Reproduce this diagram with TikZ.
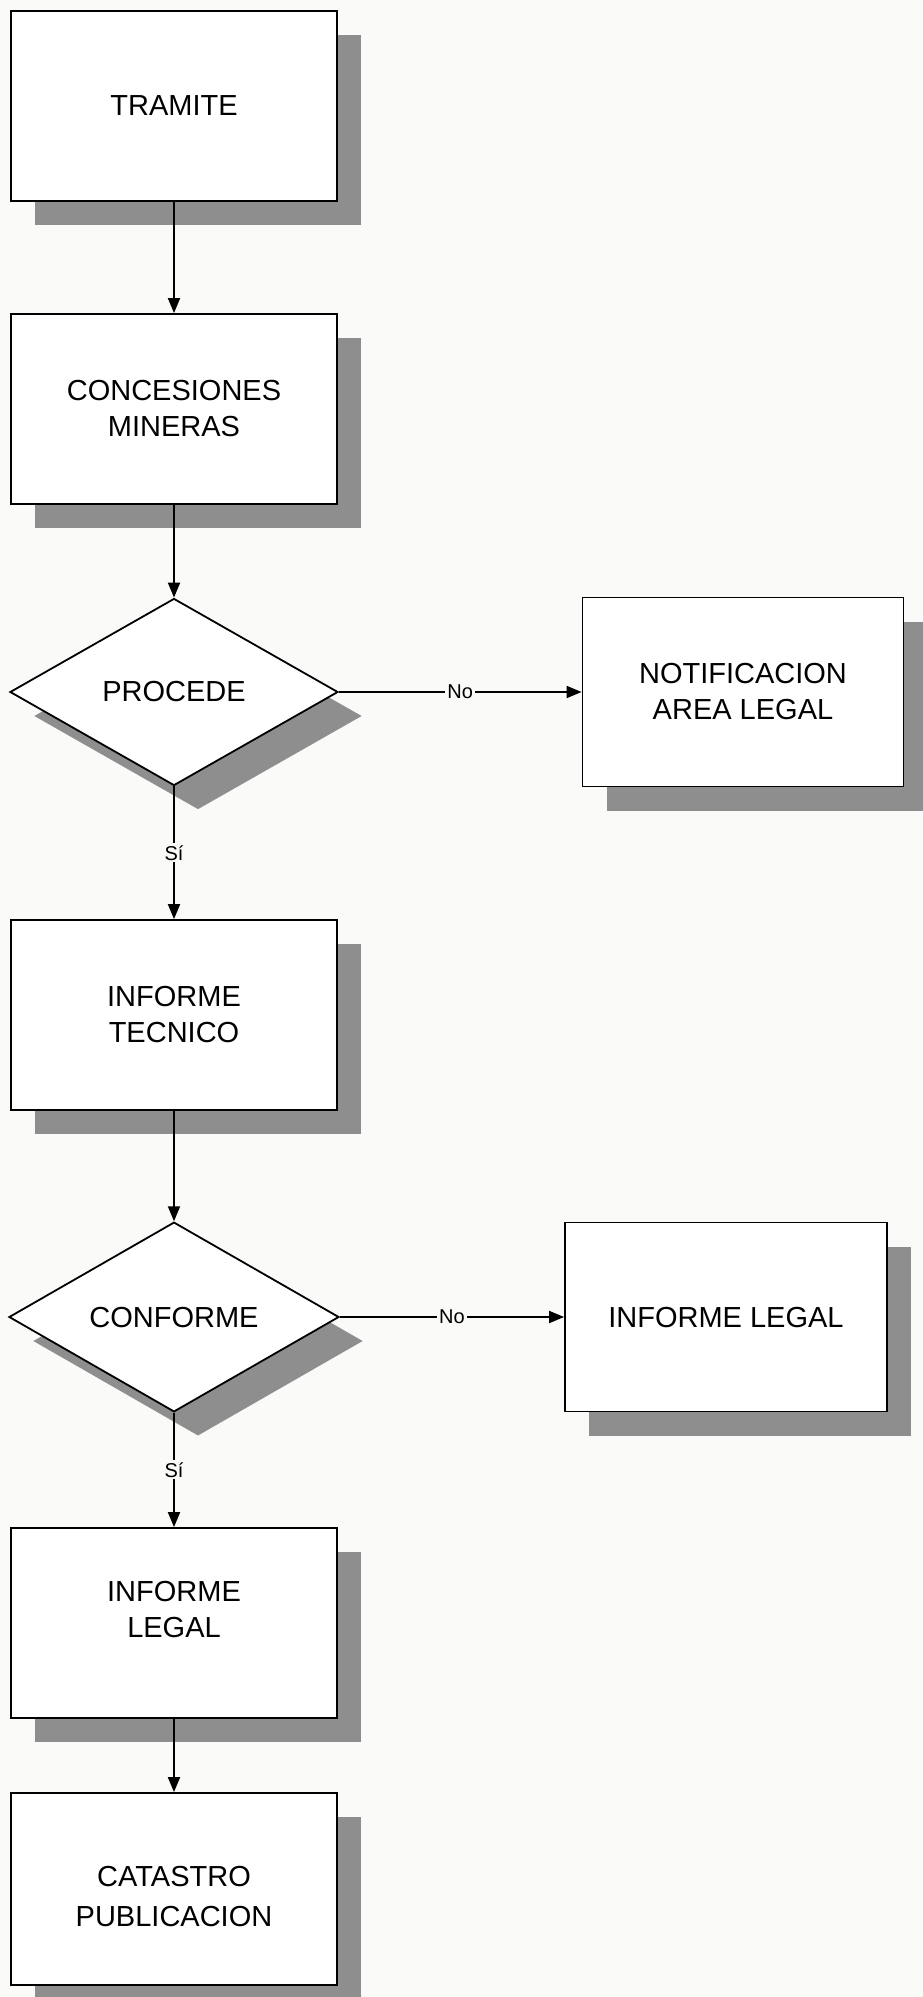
\documentclass[tikz,border=0pt]{standalone}
\usepackage{fontspec}
\setmainfont{Liberation Sans}
\usetikzlibrary{arrows.meta,shapes.geometric,shadows}
\definecolor{paper}{HTML}{FAFAF8}
\definecolor{shade}{HTML}{8E8E8E}
\begin{document}
\begin{tikzpicture}[x=1pt,y=-1pt,
  boxtext/.style={font=\fontsize{29}{36}\selectfont, align=center},
  shadowed/.style={drop shadow={shadow xshift=24pt, shadow yshift=-24pt, opacity=1, fill=shade, draw=none}},
  stepbox/.style={boxtext, rectangle, draw, line width=1.8pt, fill=white, inner sep=0pt,
    minimum width=326pt, minimum height=190pt, shadowed},
  decision/.style={boxtext, diamond, draw, line width=1.8pt, fill=white, inner sep=0pt,
    minimum width=328pt, minimum height=187pt, shadowed},
  flow/.style={line width=1.8pt, -{Triangle[length=15pt,width=12pt]}},
  answer/.style={font=\fontsize{20}{22}\selectfont, fill=paper, inner sep=2pt}]

  % page
  \fill[paper] (0,0) rectangle (923,1997);
  \clip (0,0) rectangle (923,1997);

  % left column
  \node[stepbox] (tramite) at (174,106) {TRAMITE};
  \node[stepbox] (concesiones) at (174,409) {CONCESIONES\\MINERAS};
  \node[decision] (procede) at (174,692) {PROCEDE};
  \node[stepbox] (tecnico) at (174,1015) {INFORME\\TECNICO};
  \node[decision, minimum width=330pt, minimum height=185pt] (conforme) at (174,1317) {CONFORME};
  \node[stepbox] (legal) at (174,1623) {};
  \node[boxtext] (legaltext) at (174,1609) {INFORME\\LEGAL};
  \node[stepbox, minimum height=192pt] (catastro) at (174,1889) {};
  \node[boxtext, font=\fontsize{29}{40}\selectfont] (catastrotext) at (174,1896) {CATASTRO\\PUBLICACION};

  % right column
  \node[stepbox, minimum width=321pt, minimum height=189pt] (notificacion) at (743,692) {NOTIFICACION\\AREA LEGAL};
  \node[stepbox, minimum width=322pt, minimum height=189pt] (legalno) at (726,1317) {INFORME LEGAL};

  % connectors
  \draw[flow] (tramite.south) -- (concesiones.north);
  \draw[flow] (concesiones.south) -- (procede.north);
  \draw[flow] (procede.east) -- node[answer] {No} (notificacion.west);
  \draw[flow] (procede.south) -- node[answer] {Sí} (tecnico.north);
  \draw[flow] (tecnico.south) -- (conforme.north);
  \draw[flow] (conforme.east) -- node[answer] {No} (legalno.west);
  \draw[flow] (conforme.south) -- node[answer] {Sí} (legal.north);
  \draw[flow] (legal.south) -- (catastro.north);
\end{tikzpicture}
\end{document}
